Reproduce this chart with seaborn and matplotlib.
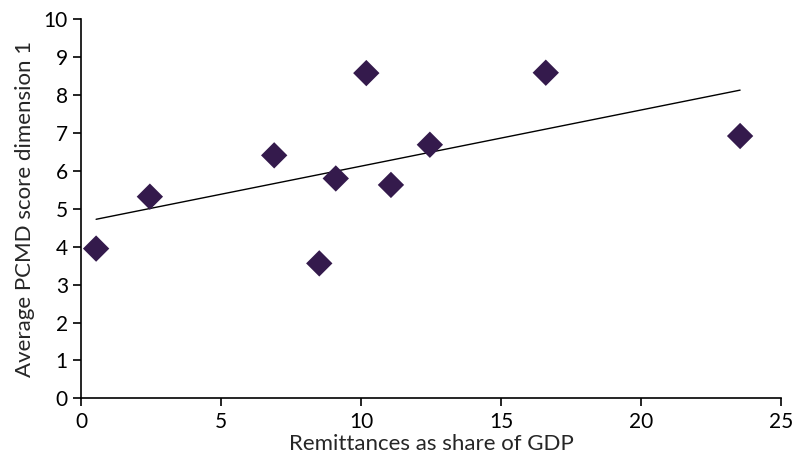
import numpy as np
import pandas as pd
import seaborn as sns
import matplotlib.pyplot as plt

# values
remittances = [0.54, 2.46, 6.9, 8.51, 9.1, 10.19, 11.07, 12.46, 16.6, 23.54]
pcmd_score = [3.95, 5.32, 6.41, 3.56, 5.80, 8.58, 5.63, 6.69, 8.59, 6.92]

df = pd.DataFrame({"Remittances": remittances, "PCMD": pcmd_score})

sns.set_style("ticks")
plt.rcParams['font.family'] = ['Lato', 'DejaVu Sans']

fig = plt.figure(figsize=(7.94, 4.70), dpi=100)
ax = fig.add_axes([0.102, 0.1525, 0.8816, 0.8065])

# linear trend line over the data range
sns.regplot(data=df, x="Remittances", y="PCMD", scatter=False, ci=None,
            truncate=True, color="black", line_kws={"linewidth": 1.0}, ax=ax)
sns.scatterplot(data=df, x="Remittances", y="PCMD", marker="D", s=180,
                color="#341a4c", edgecolor="none", zorder=3, ax=ax)

ax.set_xlim(0, 25)
ax.set_ylim(0, 10)
ax.set_xticks(range(0, 26, 5))
ax.set_yticks(range(0, 11))
ax.tick_params(axis="both", labelsize=15, length=6, width=1.2, color="black",
               labelcolor="black")
for side in ["left", "bottom"]:
    ax.spines[side].set_linewidth(1.2)
    ax.spines[side].set_color("black")
sns.despine(ax=ax)

ax.set_xlabel("Remittances as share of GDP", fontsize=16, labelpad=2)
ax.set_ylabel("Average PCMD score dimension 1", fontsize=16, labelpad=6)

fig.savefig("out.png", dpi=100)
